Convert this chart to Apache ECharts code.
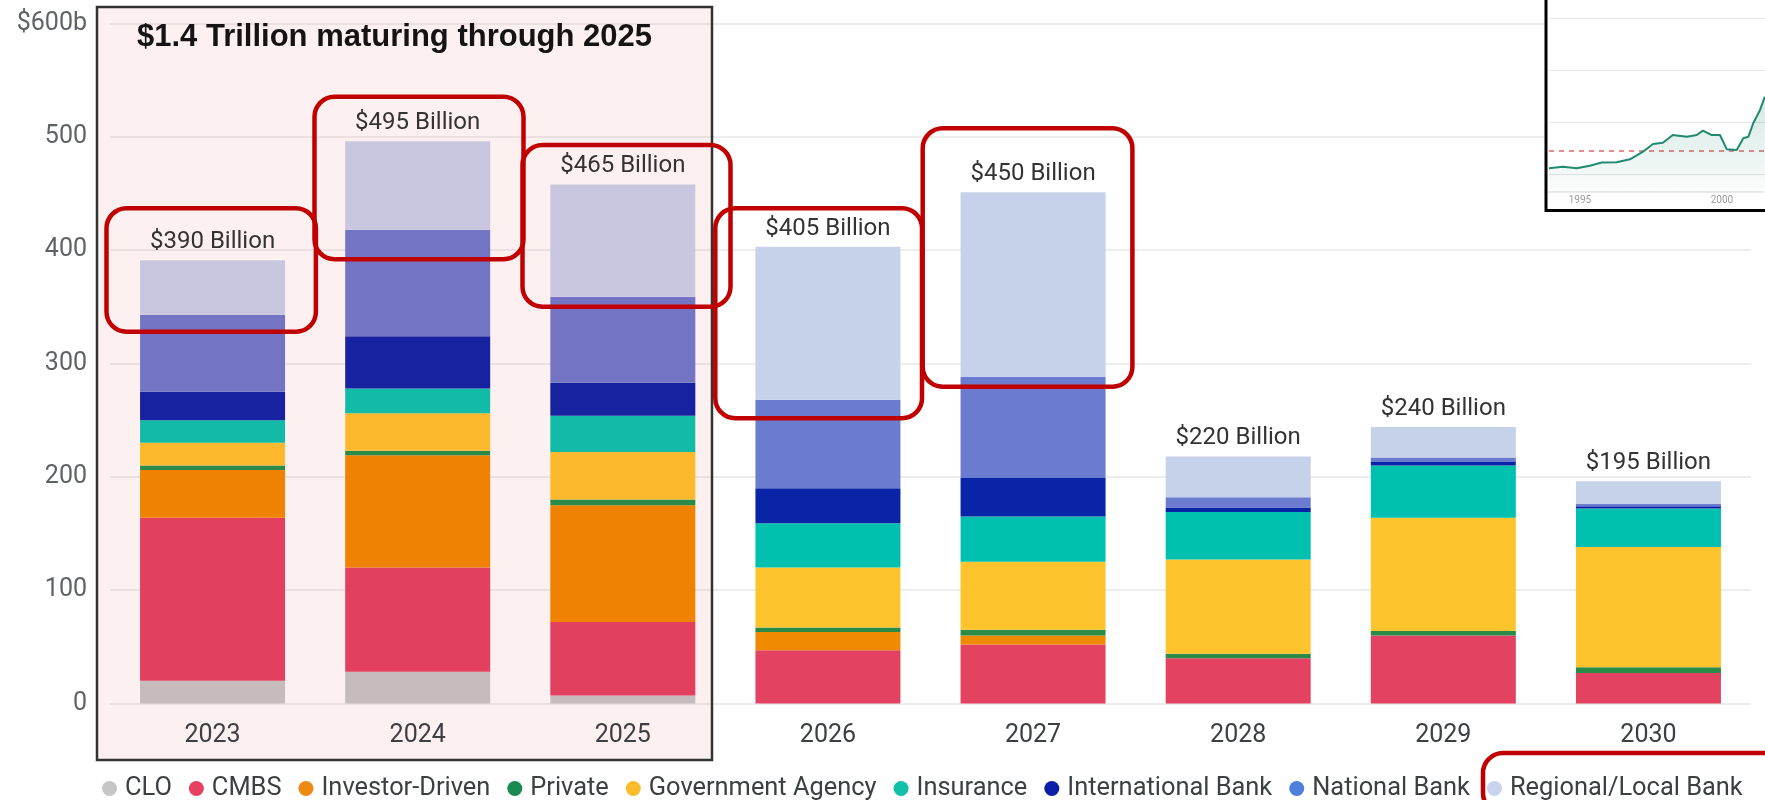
<!DOCTYPE html>
<html>
<head>
<meta charset="utf-8">
<script src="https://cdn.jsdelivr.net/npm/echarts@6/dist/echarts.min.js"></script>
<style>
html,body{margin:0;padding:0;background:#fff;}
#chart{width:1765px;height:800px;}
</style>
</head>
<body>
<div id="chart"></div>
<script>
// ---- data ----
const years = ['2023','2024','2025','2026','2027','2028','2029','2030'];
const seriesNames = ['CLO','CMBS','Investor-Driven','Private','Government Agency','Insurance','International Bank','National Bank','Regional/Local Bank'];
const clo        = [20, 28,   7,   0,   0,  0,   0,   0];
const cmbs       = [144, 92,  65,  47,  52, 40,  60,  27];
const investor   = [42, 99,  103,  16,   8,  0,   0,   0];
const privateL   = [4,   4,   5,   4,   5,  4,   4,   5];
const government = [20, 33,  42,  53,  60, 83, 100, 106];
const insurance  = [20, 22,  32,  39,  40, 42,  46,  34];
const intlBank   = [25, 46,  29,  31,  34,  4,   3,   2];
const nationalBank=[68, 94,  76,  78,  89,  9,   4,   2];
const regional   = [48, 78,  99, 135, 163, 36,  27,  20];
const totals     = [390, 495, 465, 405, 450, 220, 240, 195];
const yTicks     = [0, 100, 200, 300, 400, 500, 600];

// inset (pasted line chart, top right)
const insetYears  = [1993.91,1994.40,1994.88,1995.35,1995.76,1996.29,1996.76,1997.22,1997.57,1997.92,1998.27,1998.76,1999.11,1999.33,1999.64,1999.93,2000.17,2000.52,2000.75,2000.93,2001.10,2001.34,2001.51];
const insetValues = [105.5,107,105.5,108,111,111.3,114.2,121.5,129,130.2,137.6,136,137.6,141.8,137.6,137.6,123.8,123.2,134.5,136,148.9,161.8,174.6];
const insetGridValues = [100,150,200,250];
const insetRefValue = 122.5;
const insetLabels = [1995, 2000];

// ---- styles ----
const colors     = ['#c6c6c6','#e34261','#f08a00','#2a8a46','#fdc42d','#00c1b0','#0a24a8','#6b7bcf','#c6d2ea'];
const boxColors  = ['#c6bcbd','#e33f5e','#ef8201','#2a8a48','#fdb92e','#12baa8','#1722a0','#7474c4','#c8c7df'];
const legendColors = ['#c6c6c6','#e8415f','#ee8a12','#1a8a50','#fbbd2e','#12bfa9','#0d1fa8','#4e7fdc','#c9d3ee'];
const valueArrays = [clo,cmbs,investor,privateL,government,insurance,intlBank,nationalBank,regional];

const chart = echarts.init(document.getElementById('chart'));

const barSeries = valueArrays.map((arr, si) => {
  const s = {
    name: seriesNames[si],
    type: 'bar',
    stack: 'total',
    barWidth: 145,
    xAxisIndex: 0, yAxisIndex: 0,
    itemStyle: { color: colors[si] },
    data: arr.map((v, i) => ({ value: v, itemStyle: { color: i < 3 ? boxColors[si] : colors[si] } })),
    z: 3
  };
  if (si === valueArrays.length - 1) {
    s.label = {
      show: true, position: 'top', distance: 6,
      fontFamily: 'Roboto', fontSize: 24, color: '#333',
      formatter: p => '$' + totals[p.dataIndex] + ' Billion'
    };
  }
  return s;
});

const insetSeries = {
  type: 'line',
  xAxisIndex: 1, yAxisIndex: 1,
  data: insetYears.map((y, i) => [y, insetValues[i]]),
  symbol: 'none',
  lineStyle: { color: '#1f8a70', width: 2 },
  areaStyle: {
    color: new echarts.graphic.LinearGradient(0, 0, 0, 1, [
      { offset: 0, color: 'rgba(31,138,112,0.28)' },
      { offset: 1, color: 'rgba(31,138,112,0.03)' }
    ])
  },
  z: 20,
  silent: true,
  markLine: {
    silent: true, symbol: 'none', label: { show: false }, z: 19,
    data: insetGridValues.map(v => ({ yAxis: v, lineStyle: { color: '#e6e6e6', width: 1.2, type: 'solid' } }))
      .concat([{ yAxis: insetRefValue, lineStyle: { color: '#e06666', width: 1.5, type: [5, 5] } }])
  }
};

const annot = (x, y, w, h) => ({
  type: 'rect', z: 100,
  shape: { x: x, y: y, width: w, height: h, r: 20 },
  style: { fill: 'none', stroke: '#c00000', lineWidth: 4.5 }
});

const option = {
  animation: false,
  backgroundColor: '#ffffff',
  textStyle: { fontFamily: 'Roboto' },
  grid: [
    { left: 110, right: 14, top: 23.5, bottom: 96.5 },
    { left: 1549, right: 0, top: 0, height: 191.7 }
  ],
  xAxis: [
    {
      type: 'category', data: years, gridIndex: 0,
      axisLine: { show: false }, axisTick: { show: false },
      axisLabel: { fontSize: 25, color: '#3c4043', margin: 20, fontFamily: 'Roboto' }
    },
    {
      type: 'value', gridIndex: 1, min: 1993.91, max: 2001.515, z: 10,
      splitLine: { show: false },
      axisLine: { show: true, lineStyle: { color: '#dddddd', type: 'dotted', width: 1.5 } },
      axisTick: { show: false },
      axisLabel: { customValues: insetLabels, fontSize: 10, color: '#9a9a9a', margin: 4,
                   formatter: v => String(v) }
    }
  ],
  yAxis: [
    {
      type: 'value', gridIndex: 0, min: 0, max: 600, interval: 100,
      axisLine: { show: false }, axisTick: { show: false },
      splitLine: { lineStyle: { color: 'rgba(0,0,0,0.07)', width: 2 } },
      axisLabel: {
        fontSize: 25, color: '#5f6368', margin: 23, fontFamily: 'Roboto',
        formatter: v => v === yTicks[yTicks.length - 1] ? '$' + v + 'b' : String(v)
      }
    },
    { type: 'value', gridIndex: 1, min: 82.9, max: 267.95, show: false, splitLine: { show: false } }
  ],
  legend: {
    left: 97, top: 771, width: 1700,
    icon: 'circle', itemWidth: 15, itemHeight: 15, itemGap: 17,
    textStyle: { fontSize: 25.4, color: '#3c4043', fontFamily: 'Roboto', padding: [0, 0, 0, 3] },
    data: seriesNames.map((n, i) => ({ name: n, itemStyle: { color: legendColors[i] } }))
  },
  graphic: [
    { type: 'rect', z: -1, shape: { x: 97, y: 7, width: 615, height: 753 },
      style: { fill: '#fdf0f0', stroke: '#333', lineWidth: 2.5 } },
    { type: 'text', z: 50, x: 137, y: 37,
      style: { text: '$1.4 Trillion maturing through 2025', font: 'bold 31px "Liberation Sans", Arial, sans-serif',
               fill: '#141414', textVerticalAlign: 'middle', verticalAlign: 'middle' } },
    { type: 'rect', z: 1, shape: { x: 1546, y: -10, width: 300, height: 220.5 },
      style: { fill: '#ffffff', stroke: '#000', lineWidth: 3 } },
    annot(106.5, 208.3, 209.4, 123.4),
    annot(314.5, 96.7, 209, 162.6),
    annot(522.5, 145, 208, 161.7),
    annot(715.3, 208.3, 206.7, 210),
    annot(922.7, 128.3, 209.7, 258.4),
    annot(1483, 753, 300, 60)
  ],
  series: barSeries.concat([insetSeries])
};
chart.setOption(option);
</script>
</body>
</html>
